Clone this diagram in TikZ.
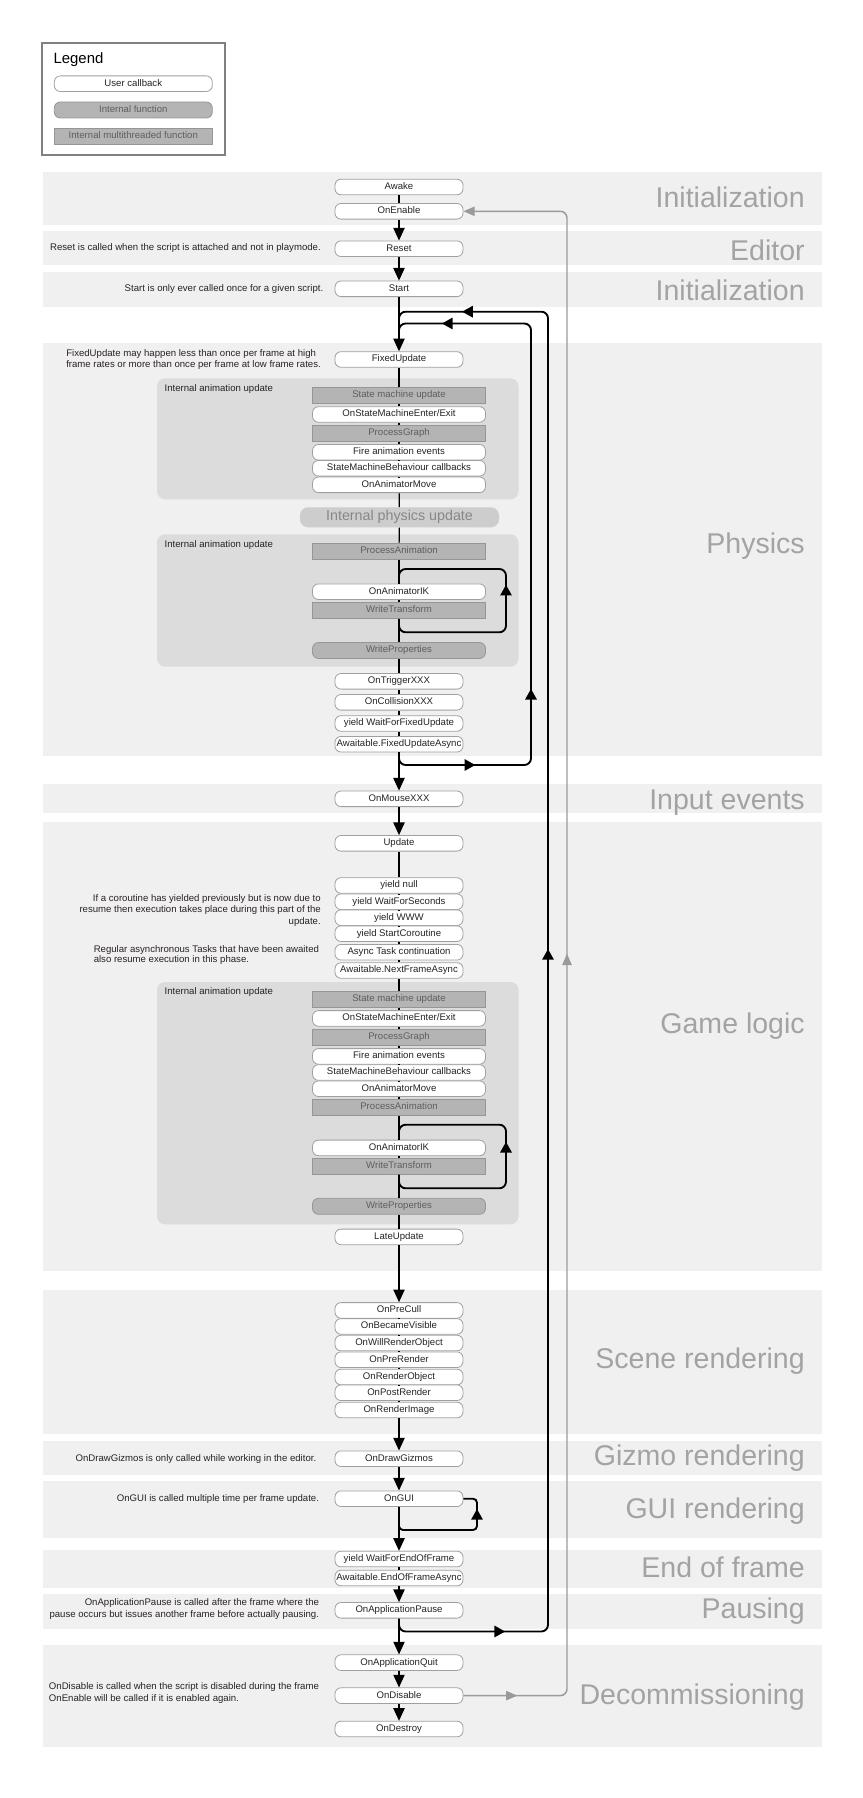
\documentclass[tikz,border=0pt]{standalone}
\usepackage{fontspec}
\setmainfont{Liberation Sans}
\usetikzlibrary{arrows.meta,decorations.markings}
\definecolor{bandc}{HTML}{F0F0F0}
\definecolor{panelc}{HTML}{DCDCDC}
\definecolor{gboxc}{HTML}{B4B4B4}
\definecolor{gborderc}{HTML}{969696}
\definecolor{wborderc}{HTML}{A0A0A0}
\definecolor{ttlc}{HTML}{A3A3A3}
\definecolor{gtextc}{HTML}{5E5E5E}
\definecolor{ipuc}{HTML}{CDCDCD}
\definecolor{iptc}{HTML}{878787}
\definecolor{graylinec}{HTML}{9A9A9A}
\definecolor{txtc}{HTML}{2A2222}
\definecolor{legbc}{HTML}{808080}
\newcommand\bxfont{\fontsize{7.2}{8.6}\selectfont}
\begin{document}
\begin{tikzpicture}[x=0.75pt,y=-0.75pt,
  cb/.style={draw=wborderc, fill=white, rounded corners=4.5pt, minimum width=96pt, minimum height=11.7pt, inner sep=0pt, font=\bxfont, text=txtc, line width=0.6pt, text height=5.2pt, text depth=1.5pt},
  cbw/.style={cb, minimum width=129.75pt},
  mt/.style={draw=gborderc, fill=gboxc, minimum width=129.75pt, minimum height=12pt, inner sep=0pt, font=\bxfont, text=gtextc, line width=0.6pt, text height=5.2pt, text depth=1.5pt},
  ifn/.style={mt, rounded corners=4.5pt},
  ttl/.style={anchor=base east, text=ttlc, font=\fontsize{21.4}{24}\selectfont, inner sep=0pt},
  note/.style={font=\bxfont, text=txtc, inner sep=0pt},
  plbl/.style={anchor=west, font=\bxfont, text=txtc, inner sep=0pt},
  ml/.style={line width=0.9pt, black},
  ma/.style={ml, -{Triangle[length=9.5pt,width=8.5pt]}},
  lp/.style={line width=1.4pt, black, rounded corners=5pt},
  gl/.style={line width=1.1pt, graylinec, rounded corners=5pt}
]
\fill[white] (0,0) rectangle (863,1798);
\useasboundingbox (0,0) rectangle (863,1798);

% section bands
\foreach \a/\b in {171.7/225, 231/265, 271.7/306.7, 343.3/755.7, 784/812.7, 821.7/1271, 1289.5/1434, 1440.7/1475.4, 1481.4/1538.4, 1550/1588, 1594/1628.6, 1644.7/1747.4}
  \fill[bandc] (43,\a) rectangle (822,\b);

% section titles
\node[ttl] (t1) at (805,207.7) {Initialization};
\node[ttl] (t2) at (805,260) {Editor};
\node[ttl] (t3) at (805,300.7) {Initialization};
\node[ttl] (t4) at (805,553) {Physics};
\node[ttl] (t5) at (805,809.3) {Input events};
\node[ttl] (t6) at (805,1033) {Game logic};
\node[ttl] (t7) at (805,1368.3) {Scene rendering};
\node[ttl] (t8) at (805,1465.3) {Gizmo rendering};
\node[ttl] (t9) at (805,1518.5) {GUI rendering};
\node[ttl] (t10) at (805,1577.4) {End of frame};
\node[ttl] (t11) at (805,1618.5) {Pausing};
\node[ttl] (t12) at (805,1704.3) {Decommissioning};

% animation panels
\fill[panelc, rounded corners=6pt] (157,378.3) rectangle (518.5,499.3);
\fill[panelc, rounded corners=6pt] (157,534.3) rectangle (518.5,666.7);
\fill[panelc, rounded corners=6pt] (157,982) rectangle (518.5,1224.3);
\node[plbl] (pl1) at (164.4,388.7) {Internal animation update};
\node[plbl] (pl2) at (164.4,544.7) {Internal animation update};
\node[plbl] (pl3) at (164.4,991.7) {Internal animation update};

% legend
\draw[legbc, line width=1.1pt, fill=white] (42,43) rectangle (225,155);
\node[anchor=base west, inner sep=0pt, font=\fontsize{11.2}{13}\selectfont] (legt) at (53.3,63.3) {Legend};
\node[cb, minimum width=118.5pt] (lg1) at (133.3,83.7) {User callback};
\node[ifn, minimum width=118.5pt] (lg2) at (133.3,110) {Internal function};
\node[mt, minimum width=118.5pt] (lg3) at (133.3,136.3) {Internal multithreaded function};

% notes
\node[note, anchor=east] (n1) at (321,248.5) {Reset is called when the script is attached and not in playmode.};
\node[note, anchor=east] (n2) at (323.5,288.7) {Start is only ever called once for a given script.};
\node[note, anchor=west, align=left, font=\fontsize{7.2}{8.1}\selectfont] (n3) at (66,359.3) {FixedUpdate may happen less than once per frame at high\\frame rates or more than once per frame at low frame rates.};
\node[note, anchor=east, align=right, font=\fontsize{7.2}{8.6}\selectfont] (n4) at (321,910.3) {If a coroutine has yielded previously but is now due to\\resume then execution takes place during this part of the\\update.};
\node[note, anchor=west, align=left, font=\fontsize{7.2}{6}\selectfont] (n5) at (93.5,955) {Regular asynchronous Tasks that have been awaited\\also resume execution in this phase.};
\node[note, anchor=east] (n6) at (316.5,1458.5) {OnDrawGizmos is only called while working in the editor.};
\node[note, anchor=east] (n7) at (319.3,1499) {OnGUI is called multiple time per frame update.};
\node[note, anchor=east, align=right, font=\fontsize{7.2}{8.85}\selectfont] (n8) at (319.3,1609.2) {OnApplicationPause is called after the frame where the\\pause occurs but issues another frame before actually pausing.};
\node[note, anchor=west, align=left, font=\fontsize{7.2}{8.85}\selectfont] (n9) at (48.7,1692.7) {OnDisable is called when the script is disabled during the frame\\OnEnable will be called if it is enabled again.};

% main column
\node[cb] (awake) at (399,187) {Awake};
\node[cb] (onenable) at (399,211.3) {OnEnable};
\node[cb] (reset) at (399,248.7) {Reset};
\node[cb] (start) at (399,288.8) {Start};
\node[cb] (fixedupdate) at (399,359.5) {FixedUpdate};
\node[mt] (p1smu) at (399,395.3) {State machine update};
\node[cbw] (p1osme) at (399,414.5) {OnStateMachineEnter/Exit};
\node[mt] (p1pg) at (399,433.3) {ProcessGraph};
\node[cbw] (p1fae) at (399,452.3) {Fire animation events};
\node[cbw] (p1smb) at (399,468.3) {StateMachineBehaviour callbacks};
\node[cbw] (p1oam) at (399,484.8) {OnAnimatorMove};
\node[fill=ipuc, rounded corners=6pt, minimum width=149.25pt, minimum height=15pt, inner sep=0pt, text=iptc, font=\fontsize{10.7}{12}\selectfont] (ipu) at (399.5,517.3) {Internal physics update};
\node[mt] (p2pa) at (399,551.3) {ProcessAnimation};
\node[cbw] (p2ik) at (399,591.7) {OnAnimatorIK};
\node[mt] (p2wt) at (399,610.5) {WriteTransform};
\node[ifn] (p2wp) at (399,650.5) {WriteProperties};
\node[cb] (trig) at (399,681.3) {OnTriggerXXX};
\node[cb] (coll) at (399,702.3) {OnCollisionXXX};
\node[cb] (wffu) at (399,723.5) {yield WaitForFixedUpdate};
\node[cb] (afua) at (399,744.2) {Awaitable.FixedUpdateAsync};
\node[cb] (mouse) at (399,798.8) {OnMouseXXX};
\node[cb] (update) at (399,843.3) {Update};
\node[cb] (ynull) at (399,885.5) {yield null};
\node[cb] (wfs) at (399,901.7) {yield WaitForSeconds};
\node[cb] (www) at (399,917.7) {yield WWW};
\node[cb] (sco) at (399,933.7) {yield StartCoroutine};
\node[cb] (async) at (399,952.2) {Async Task continuation};
\node[cb] (anfa) at (399,970.5) {Awaitable.NextFrameAsync};
\node[mt] (p3smu) at (399,999.2) {State machine update};
\node[cbw] (p3osme) at (399,1018.4) {OnStateMachineEnter/Exit};
\node[mt] (p3pg) at (399,1037.3) {ProcessGraph};
\node[cbw] (p3fae) at (399,1056.4) {Fire animation events};
\node[cbw] (p3smb) at (399,1072.5) {StateMachineBehaviour callbacks};
\node[cbw] (p3oam) at (399,1088.7) {OnAnimatorMove};
\node[mt] (p3pa) at (399,1107.2) {ProcessAnimation};
\node[cbw] (p3ik) at (399,1147.9) {OnAnimatorIK};
\node[mt] (p3wt) at (399,1166.3) {WriteTransform};
\node[ifn] (p3wp) at (399,1206.3) {WriteProperties};
\node[cb] (late) at (399,1236.9) {LateUpdate};
\node[cb] (precull) at (399,1310.4) {OnPreCull};
\node[cb] (becvis) at (399,1326.4) {OnBecameVisible};
\node[cb] (willro) at (399,1343) {OnWillRenderObject};
\node[cb] (prerender) at (399,1359.7) {OnPreRender};
\node[cb] (renderobj) at (399,1377) {OnRenderObject};
\node[cb] (postrender) at (399,1392.7) {OnPostRender};
\node[cb] (renderimg) at (399,1410) {OnRenderImage};
\node[cb] (gizmos) at (399,1458.7) {OnDrawGizmos};
\node[cb] (ongui) at (399,1498.7) {OnGUI};
\node[cb] (wfeof) at (399,1559) {yield WaitForEndOfFrame};
\node[cb] (aeofa) at (399,1578) {Awaitable.EndOfFrameAsync};
\node[cb] (pause) at (399,1610.3) {OnApplicationPause};
\node[cb] (quit) at (399,1662.6) {OnApplicationQuit};
\node[cb] (disable) at (399,1695.6) {OnDisable};
\node[cb] (destroy) at (399,1729) {OnDestroy};

% plain connectors
\foreach \a/\b in {awake/onenable, fixedupdate/p1smu, p1smu/p1osme, p1osme/p1pg, p1pg/p1fae, p1fae/p1smb, p1smb/p1oam, p1oam/ipu, ipu/p2pa, p2pa/p2ik, p2ik/p2wt, p2wt/p2wp, p2wp/trig, trig/coll, coll/wffu, wffu/afua, update/ynull, ynull/wfs, wfs/www, www/sco, sco/async, async/anfa, anfa/p3smu, p3smu/p3osme, p3osme/p3pg, p3pg/p3fae, p3fae/p3smb, p3smb/p3oam, p3oam/p3pa, p3pa/p3ik, p3ik/p3wt, p3wt/p3wp, p3wp/late, precull/becvis, becvis/willro, willro/prerender, prerender/renderobj, renderobj/postrender, postrender/renderimg, wfeof/aeofa}
  \draw[ml] (\a) -- (\b);
% arrow connectors
\foreach \a/\b in {onenable/reset, reset/start, start/fixedupdate, afua/mouse, mouse/update, late/precull, renderimg/gizmos, gizmos/ongui, ongui/wfeof, aeofa/pause, pause/quit, quit/disable, disable/destroy}
  \draw[ma] (\a) -- (\b);

% loops
\coordinate (o1) at (399,1631.5);
\coordinate (o2) at (548,1631.5);
\coordinate (o3) at (548,311.7);
\coordinate (o4) at (399,311.7);
\coordinate (o5) at (399,326);
\draw[lp, postaction={decorate}, decoration={markings,
  mark=at position 87.2pt with {\arrow{Triangle[length=8pt,width=8.5pt]}},
  mark=at position 629.1pt with {\arrow{Triangle[length=8pt,width=8.5pt]}},
  mark=at position 1169.3pt with {\arrow{Triangle[length=8pt,width=8.5pt]}}}]
  (pause.south) -- (o1) -- (o2) -- (o3) -- (o4) -- (o5);

\coordinate (i1) at (399,765);
\coordinate (i2) at (531,765);
\coordinate (i3) at (531,323.5);
\coordinate (i4) at (399,323.5);
\coordinate (i5) at (399,338);
\draw[lp, postaction={decorate}, decoration={markings,
  mark=at position 64.5pt with {\arrow{Triangle[length=8pt,width=8.5pt]}},
  mark=at position 161.25pt with {\arrow{Triangle[length=8pt,width=8.5pt]}},
  mark=at position 499.9pt with {\arrow{Triangle[length=8pt,width=8.5pt]}}}]
  (afua.south) -- (i1) -- (i2) -- (i3) -- (i4) -- (i5);

\coordinate (g1) at (567,1695.6);
\coordinate (g2) at (567,211.3);
\draw[gl, -{Triangle[length=8.5pt,width=7pt]}, postaction={decorate}, decoration={markings,
  mark=at position 40.5pt with {\arrow{Triangle[length=8.5pt,width=7pt]}},
  mark=at position 632pt with {\arrow{Triangle[length=8.5pt,width=7pt]}}}]
  (disable.east) -- (g1) -- (g2) -- (onenable.east);

\coordinate (a1) at (399,632.3);
\coordinate (a2) at (506,632.3);
\coordinate (a3) at (506,569);
\coordinate (a4) at (399,569);
\coordinate (a5) at (399,578);
\draw[lp, postaction={decorate}, decoration={markings,
  mark=at position 121.6pt with {\arrow{Triangle[length=8pt,width=8.5pt]}}}]
  (p2wt.south) -- (a1) -- (a2) -- (a3) -- (a4) -- (a5);

\coordinate (b1) at (399,1188.3);
\coordinate (b2) at (506,1188.3);
\coordinate (b3) at (506,1124.7);
\coordinate (b4) at (399,1124.7);
\coordinate (b5) at (399,1133);
\draw[lp, postaction={decorate}, decoration={markings,
  mark=at position 121pt with {\arrow{Triangle[length=8pt,width=8.5pt]}}}]
  (p3wt.south) -- (b1) -- (b2) -- (b3) -- (b4) -- (b5);

\coordinate (c1) at (399,1530);
\coordinate (c2) at (477,1530);
\coordinate (c3) at (477,1498.7);
\draw[lp, rounded corners=3pt, postaction={decorate}, decoration={markings,
  mark=at position 89pt with {\arrow{Triangle[length=8pt,width=8.5pt]}}}]
  (ongui.south) -- (c1) -- (c2) -- (c3) -- (ongui.east);
\end{tikzpicture}
\end{document}
